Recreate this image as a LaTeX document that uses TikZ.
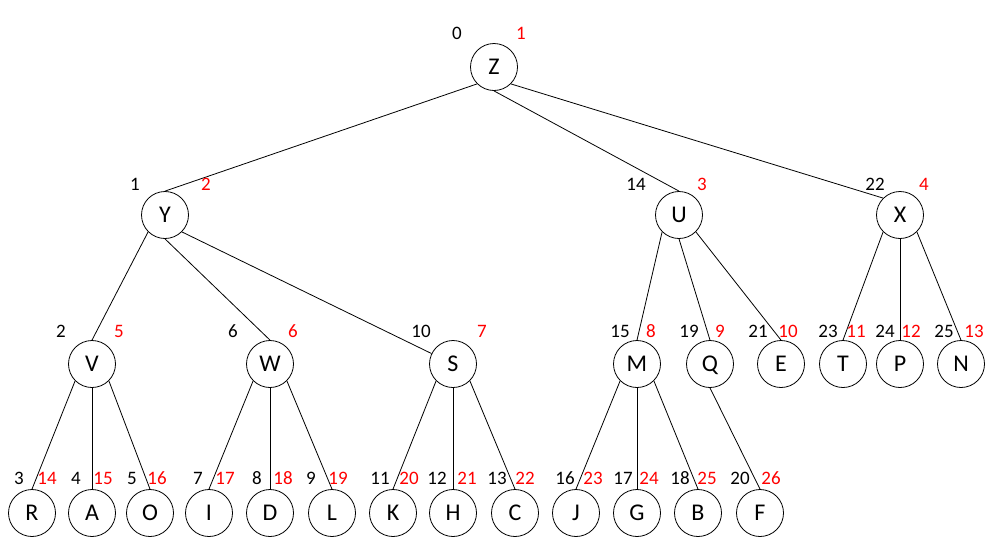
\documentclass[tikz,border=0pt]{standalone}
\usepackage{fontspec}
\setmainfont{Carlito}
\usepackage{tikz}
\usetikzlibrary{positioning}
\definecolor{ordred}{HTML}{FF0000}
\tikzset{
    every node/.style={font=\fontsize{19}{22}\selectfont},
    vert/.style={circle,draw,line width=0.8pt,minimum size=47pt,inner sep=0pt,
        text depth=0pt,font=\fontsize{24}{28}\selectfont},
    idx/.style={text depth=0pt,inner sep=0pt},
    ord/.style={idx,text=ordred},
    every edge/.style={draw,line width=0.8pt}
}

\begin{document}
\begin{tikzpicture}[x=1pt,y=-1pt]
    \useasboundingbox (0,0) rectangle (996,555);
    % tree vertices
    \node[vert] (Z) at (494,67) {Z};
    \node[vert] (Y) at (165,215) {Y};
    \node[vert] (U) at (679,215) {U};
    \node[vert] (X) at (900,215) {X};
    \node[vert] (V) at (92,364) {V};
    \node[vert] (W) at (270,364) {W};
    \node[vert] (S) at (453,364) {S};
    \node[vert] (M) at (637,364) {M};
    \node[vert] (Q) at (710,364) {Q};
    \node[vert] (E) at (781,364) {E};
    \node[vert] (T) at (843,364) {T};
    \node[vert] (P) at (900,364) {P};
    \node[vert] (N) at (961,364) {N};
    \node[vert] (R) at (32,513) {R};
    \node[vert] (A) at (92,513) {A};
    \node[vert] (O) at (150,513) {O};
    \node[vert] (I) at (209,513) {I};
    \node[vert] (D) at (270,513) {D};
    \node[vert] (L) at (332,513) {L};
    \node[vert] (K) at (393,513) {K};
    \node[vert] (H) at (453,513) {H};
    \node[vert] (C) at (515,513) {C};
    \node[vert] (J) at (576,513) {J};
    \node[vert] (G) at (637,513) {G};
    \node[vert] (B) at (698,513) {B};
    \node[vert] (F) at (760,513) {F};
    % tree edges
    \path
    (Z.south west) edge (Y.north)
    (Z.south) edge (U.north)
    (Z.south east) edge (X.north west)
    (Y.south west) edge (V.north)
    (Y.south) edge (W.north)
    (Y.south east) edge (S)
    (U.south west) edge (M.north)
    (U.south) edge (Q.north)
    (U.south east) edge (E.north)
    (X.south west) edge (T.north)
    (X.south) edge (P.north)
    (X.south east) edge (N.north)
    (V.south west) edge (R.north)
    (V.south) edge (A.north)
    (V.south east) edge (O.north)
    (W.south west) edge (I.north)
    (W.south) edge (D.north)
    (W.south east) edge (L.north)
    (S.south west) edge (K.north)
    (S.south) edge (H.north)
    (S.south east) edge (C.north)
    (M.south west) edge (J.north)
    (M.south) edge (G.north)
    (M.south east) edge (B.north)
    (Q.south) edge (F.north);
    % index labels (black) and order labels (red)
    \node[idx] (iZ) at (457,33) {0};   \node[ord] (oZ) at (521,33) {1};
    \node[idx] (iY) at (135,184) {1};  \node[ord] (oY) at (206,184) {2};
    \node[idx] (iU) at (636,184) {14}; \node[ord] (oU) at (702,184) {3};
    \node[idx] (iX) at (875,184) {22}; \node[ord] (oX) at (924,184) {4};
    \node[idx] (iV) at (61,331) {2};   \node[ord] (oV) at (119,331) {5};
    \node[idx] (iW) at (233,331) {6};  \node[ord] (oW) at (293,331) {6};
    \node[idx] (iS) at (421,331) {10}; \node[ord] (oS) at (482,331) {7};
    \node[idx] (iM) at (620,331) {15}; \node[ord] (oM) at (651,331) {8};
    \node[idx] (iQ) at (689,331) {19}; \node[ord] (oQ) at (720,331) {9};
    \node[idx] (iE) at (758,331) {21}; \node[ord] (oE) at (788,331) {10};
    \node[idx] (iT) at (828,331) {23}; \node[ord] (oT) at (856,331) {11};
    \node[idx] (iP) at (885,331) {24}; \node[ord] (oP) at (911,331) {12};
    \node[idx] (iN) at (944,331) {25}; \node[ord] (oN) at (974,331) {13};
    \node[idx] (iR) at (19,478) {3};   \node[ord] (oR) at (47,478) {14};
    \node[idx] (iA) at (76,478) {4};   \node[ord] (oA) at (103,478) {15};
    \node[idx] (iO) at (132,478) {5};  \node[ord] (oO) at (157,478) {16};
    \node[idx] (iI) at (198,478) {7};  \node[ord] (oI) at (225,478) {17};
    \node[idx] (iD) at (257,478) {8};  \node[ord] (oD) at (283,478) {18};
    \node[idx] (iL) at (311,478) {9};  \node[ord] (oL) at (338,478) {19};
    \node[idx] (iK) at (380,478) {11}; \node[ord] (oK) at (409,478) {20};
    \node[idx] (iH) at (437,478) {12}; \node[ord] (oH) at (467,478) {21};
    \node[idx] (iC) at (497,478) {13}; \node[ord] (oC) at (525,478) {22};
    \node[idx] (iJ) at (565,478) {16}; \node[ord] (oJ) at (593,478) {23};
    \node[idx] (iG) at (623,478) {17}; \node[ord] (oG) at (649,478) {24};
    \node[idx] (iB) at (680,478) {18}; \node[ord] (oB) at (707,478) {25};
    \node[idx] (iF) at (740,478) {20}; \node[ord] (oF) at (771,478) {26};
\end{tikzpicture}
\end{document}
